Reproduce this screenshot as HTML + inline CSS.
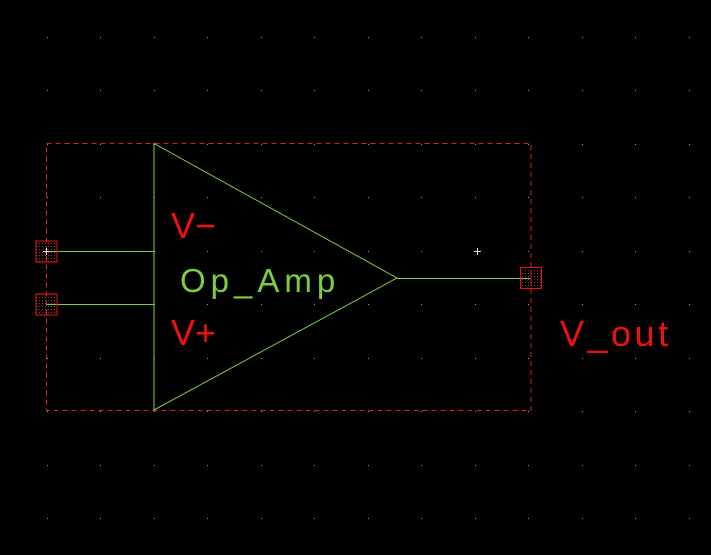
<!DOCTYPE html>
<html><head><meta charset="utf-8"><style>
html,body{margin:0;padding:0;background:#000;width:711px;height:555px;overflow:hidden}
svg{display:block}
text{font-family:"Liberation Sans",sans-serif;}
</style></head><body>
<svg id="s" width="711" height="555" viewBox="0 0 711 555">
<defs>
<pattern id="dots" x="0" y="0" width="3" height="3" patternUnits="userSpaceOnUse"><rect width="1" height="1" fill="#a33"/></pattern>
</defs>
<g id="grid"></g>
<rect x="46.5" y="143.5" width="484.5" height="267" fill="none" stroke="#e02020" stroke-dasharray="5,4"/>
<polygon points="154,143.5 154,410 397,278" fill="none" stroke="#7ccf3a" stroke-width="1"/>
<line x1="46.5" y1="251.5" x2="154" y2="251.5" stroke="#7ccf3a"/>
<line x1="46.5" y1="304.5" x2="154" y2="304.5" stroke="#7ccf3a"/>
<line x1="397" y1="278.5" x2="531" y2="278.5" stroke="#7ccf3a"/>
<g><rect x="36" y="241" width="21" height="21" fill="url(#dots)" stroke="#f01010" stroke-width="1"/></g>
<g><rect x="36" y="294" width="21" height="21" fill="url(#dots)" stroke="#f01010" stroke-width="1"/></g>
<g><rect x="520.5" y="267.5" width="21" height="21" fill="url(#dots)" stroke="#f01010" stroke-width="1"/></g>
<path d="M43,251.5h7M46.5,248v7" stroke="#ddd"/>
<path d="M474,251.5h7M477.5,248v7" stroke="#ddd"/>
<text x="171" y="238" font-size="36" fill="#f01010">V−</text>
<text x="180" y="292" font-size="33" fill="#7ccf3a" letter-spacing="5">Op_Amp</text>
<text x="171" y="345" font-size="36" fill="#f01010">V+</text>
<text x="560" y="346" font-size="36" fill="#f01010" letter-spacing="3.5">V_out</text>
</svg>
<script>
const g=document.getElementById('grid');
for(let x=46.5;x<711;x+=53.5){for(let y=36.5;y<555;y+=53.5){
const c=document.createElementNS('http://www.w3.org/2000/svg','rect');
c.setAttribute('x',Math.round(x));c.setAttribute('y',Math.round(y));
c.setAttribute('width',1);c.setAttribute('height',1);c.setAttribute('fill','#9aa0b0');


g.appendChild(c);}}
</script>
</body></html>
